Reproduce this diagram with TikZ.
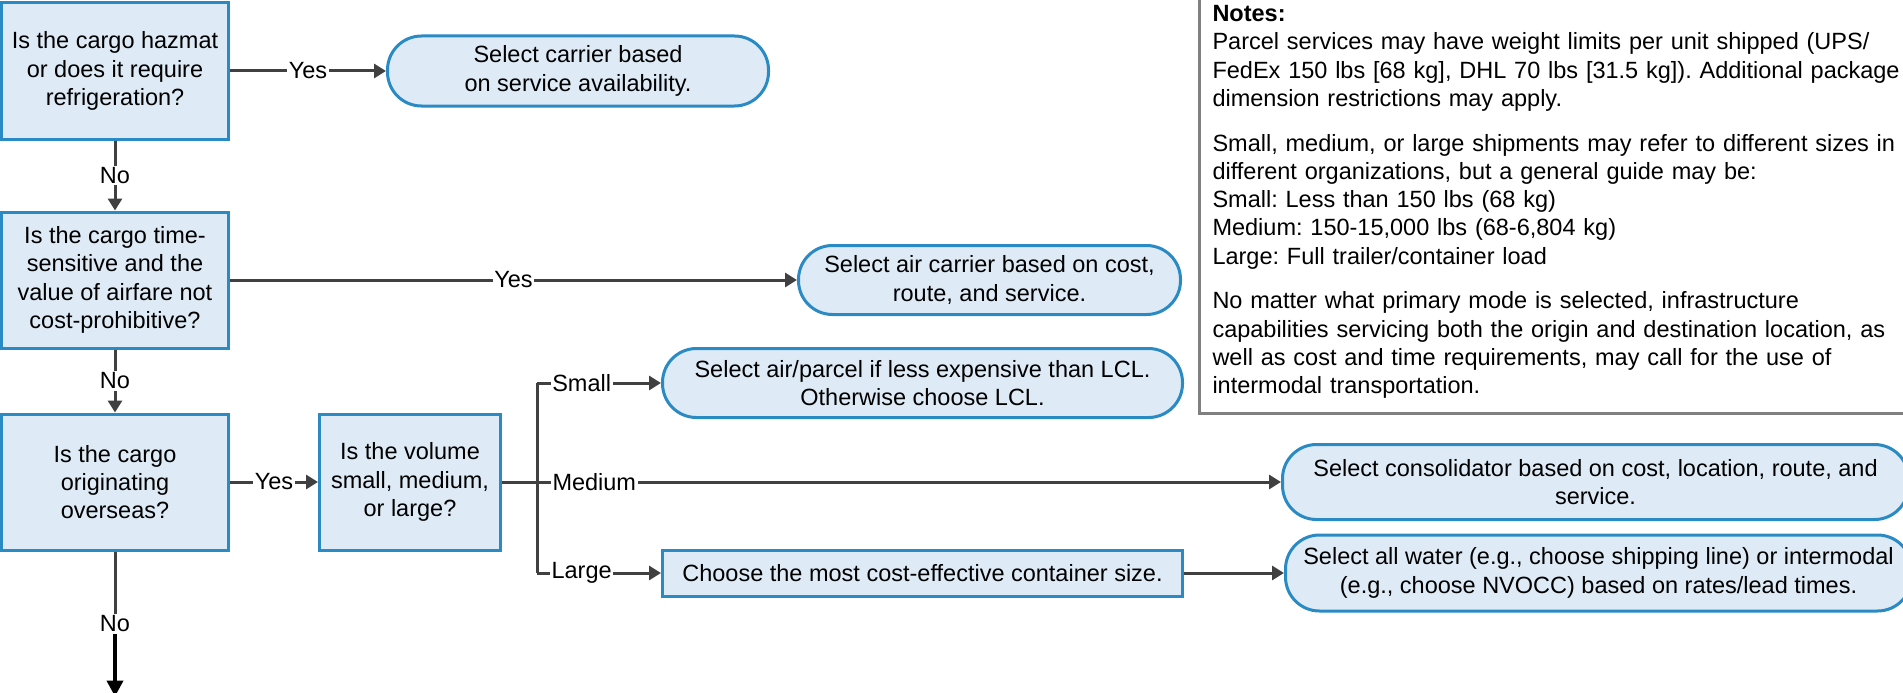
\documentclass[tikz,border=0pt]{standalone}
\usepackage{fontspec}
\setmainfont{Liberation Sans}
\usepackage{tikz}
\usetikzlibrary{positioning}
\usetikzlibrary{arrows.meta, positioning}

\definecolor{boxfill}{HTML}{DEEBF6}
\definecolor{boxline}{HTML}{2A8AC4}
\definecolor{linegrey}{HTML}{404040}
\definecolor{notegrey}{HTML}{808080}

\begin{document}
\begin{tikzpicture}[
  x=1pt, y=-1pt,
  font=\fontsize{23.5}{28.2}\selectfont\frenchspacing,
  question/.style={rectangle, draw=boxline, fill=boxfill, line width=3pt, minimum width=227pt, minimum height=136pt, inner sep=0pt, align=center},
  action/.style={question, minimum width=520pt, minimum height=46pt},
  outcome/.style={rectangle, rounded corners=34pt, draw=boxline, fill=boxfill, line width=3pt, minimum height=69pt, inner sep=0pt, align=center},
  notes/.style={rectangle, draw=notegrey, line width=3pt, align=left, text width=730pt, inner xsep=13pt, inner ysep=0pt, minimum height=423pt},
  lbl/.style={fill=white, inner sep=1.5pt},
  branch/.style={draw=linegrey, line width=3pt},
  arrow/.style={branch, -{Triangle[length=12pt, width=14pt]}},
  exitarrow/.style={draw=black, line width=4pt, -{Triangle[length=16pt, width=16pt]}}
]
  \clip (0,0) rectangle (1903,693);

  % Questions
  \node[question] (hazmat) at (115,71) {Is the cargo hazmat\\or does it require\\refrigeration?};
  \node[question, below=70pt of hazmat] (timesens) {Is the cargo time-\\sensitive and the\\value of airfare not\\cost-prohibitive?};
  \node[question, below=63pt of timesens] (overseas) {Is the cargo\\originating\\overseas?};
  \node[question, minimum width=181pt, right=88pt of overseas] (volume) {Is the volume\\small, medium,\\or large?};

  % Branch points
  \coordinate[right=35pt of volume] (bm);
  \coordinate[above=99pt of bm] (bs);
  \coordinate[below=91pt of bm] (bl);
  \coordinate[below=145pt of overseas] (exit);

  % Outcomes
  \node[outcome, minimum width=381pt, minimum height=70pt, right=156pt of hazmat] (carrier) {Select carrier based\\on service availability.};
  \node[outcome, minimum width=382pt, right=567pt of timesens] (aircarrier) {Select air carrier based on cost,\\route, and service.};
  \node[outcome, minimum width=520pt, right=124pt of bs] (parcel) {Select air/parcel if less expensive than LCL.\\Otherwise choose LCL.};
  \node[outcome, minimum width=626pt, minimum height=75pt, right=744pt of bm] (consol) {Select consolidator based on cost, location, route, and\\service.};
  \node[action, right=124pt of bl] (container) {Choose the most cost-effective container size.};
  \node[outcome, minimum width=626pt, minimum height=76pt, right=100pt of container] (water) {Select all water (e.g., choose shipping line) or intermodal\\(e.g., choose NVOCC) based on rates/lead times.};

  % Notes
  \node[notes, anchor=north west] (remarks) at (1198,-11) {\textbf{Notes:}\\
    Parcel services may have weight limits per unit shipped (UPS/\\
    FedEx 150 lbs [68 kg], DHL 70 lbs [31.5 kg]). Additional package\\
    dimension restrictions may apply.\\[16.7pt]
    Small, medium, or large shipments may refer to different sizes in\\
    different organizations, but a general guide may be:\\
    Small: Less than 150 lbs (68 kg)\\
    Medium: 150-15,000 lbs (68-6,804 kg)\\
    Large: Full trailer/container load\\[16.7pt]
    No matter what primary mode is selected, infrastructure\\
    capabilities servicing both the origin and destination location, as\\
    well as cost and time requirements, may call for the use of\\
    intermodal transportation.};

  % Connectors
  \draw[arrow] (hazmat) -- node[lbl] {Yes} (carrier);
  \draw[arrow] (hazmat) -- node[lbl] {No} (timesens);
  \draw[arrow] (timesens) -- node[lbl] {Yes} (aircarrier);
  \draw[arrow] (timesens) -- node[lbl] {No} (overseas);
  \draw[arrow] (overseas) -- node[lbl] {Yes} (volume);

  \draw[branch] (volume) -- (bm);
  \draw[branch] (bs) -- (bl);
  \draw[arrow] (bs) -- node[lbl, pos=0.36] {Small} (parcel);
  \draw[arrow] (bm) -- node[lbl, pos=0.077] {Medium} (consol);
  \draw[arrow] (bl) -- node[lbl, pos=0.36] {Large} (container);
  \draw[arrow] (container) -- (water);

  \path (overseas.south) -- node[lbl] (no3) {No} (exit);
  \draw[branch] (overseas) -- (no3);
  \draw[exitarrow] (no3) -- (exit);
\end{tikzpicture}
\end{document}
